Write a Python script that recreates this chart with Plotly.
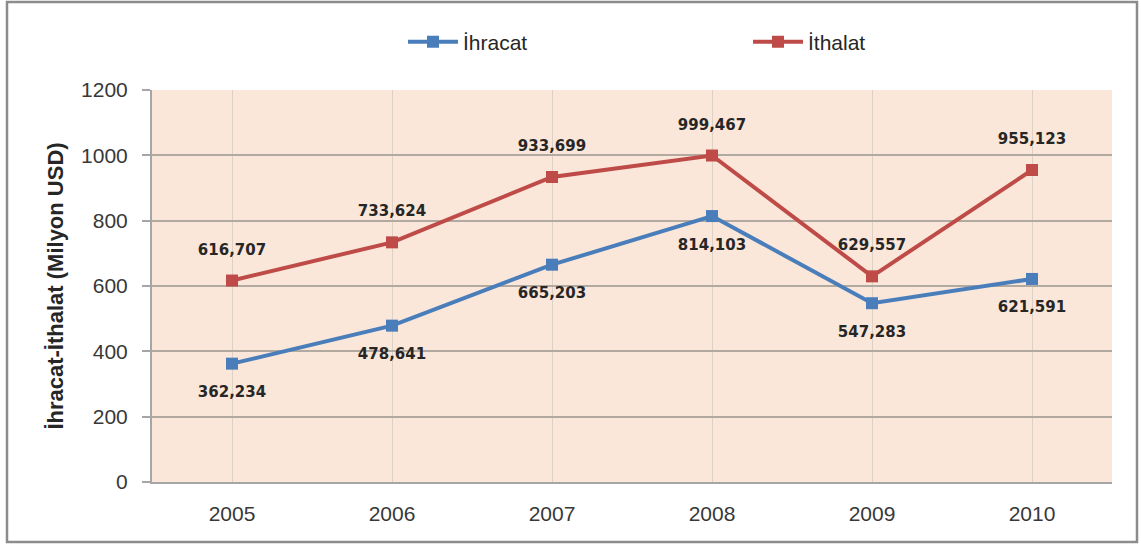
import plotly.graph_objects as go

years = ["2005", "2006", "2007", "2008", "2009", "2010"]
ihracat = [362.234, 478.641, 665.203, 814.103, 547.283, 621.591]
ithalat = [616.707, 733.624, 933.699, 999.467, 629.557, 955.123]

blue = "#4A7EBB"
red = "#BE4B48"
lblfont = dict(family="DejaVu Sans", size=15, color="#262626")

fig = go.Figure()
fig.add_trace(go.Scatter(
    x=years, y=ihracat, name="İhracat", mode="lines+markers",
    line=dict(color=blue, width=4),
    marker=dict(symbol="square", size=12, color=blue),
    cliponaxis=False,
))
fig.add_trace(go.Scatter(
    x=years, y=ithalat, name="İthalat", mode="lines+markers",
    line=dict(color=red, width=4),
    marker=dict(symbol="square", size=12, color=red),
    cliponaxis=False,
))
# data labels: transparent large markers push the text away from the points
for vals, pos in ((ihracat, "bottom center"), (ithalat, "top center")):
    fig.add_trace(go.Scatter(
        x=years, y=vals, mode="markers+text", showlegend=False, hoverinfo="skip",
        marker=dict(size=34, color="rgba(0,0,0,0)"),
        texttemplate="<b>%{y:.3f}</b>", textposition=pos, textfont=lblfont,
        cliponaxis=False,
    ))

fig.update_layout(
    width=1141, height=544,
    margin=dict(l=152, r=29, t=90, b=62, autoexpand=False),
    paper_bgcolor="white",
    plot_bgcolor="#FAE7D9",
    separators=",.",
    font=dict(family="Liberation Sans", size=15, color="#333333"),
    showlegend=True,
    legend=dict(orientation="h", x=(403 - 152) / 960, xanchor="left",
                y=1 + 48 / 392, yanchor="middle",
                font=dict(size=21, color="#262626"), itemwidth=50,
                entrywidthmode="pixels", entrywidth=280, bgcolor="rgba(0,0,0,0)"),
    xaxis=dict(
        type="category", showgrid=True, gridcolor="#DDD0C5", gridwidth=1,
        showline=True, linecolor="#A6A6A6", linewidth=2,
        ticks="", tickfont=dict(size=21, color="#383838"),
        ticklabelstandoff=12,
        range=[-0.5, 5.5],
    ),
    yaxis=dict(
        range=[0, 1200], dtick=200, showgrid=True, gridcolor="#B2A9A1", gridwidth=2,
        showline=True, linecolor="#A6A6A6", linewidth=2,
        ticks="outside", ticklen=8, tickcolor="#A6A6A6", tickwidth=2,
        tickfont=dict(size=21, color="#383838"),
        ticklabelstandoff=10,
        title=dict(text="<b>İhracat-İthalat (Milyon USD)</b>", font=dict(size=22, color="#262626"),
                   standoff=11),
        zeroline=False,
    ),
    shapes=[dict(type="rect", xref="paper", yref="paper",
                 x0=(7 - 152) / 960, x1=(1137 - 152) / 960,
                 y0=-(542 - 482) / 392, y1=1 + (90 - 2) / 392,
                 line=dict(color="#8C8C8C", width=2.5),
                 fillcolor="rgba(0,0,0,0)", layer="above")],
)

fig.write_html("out.html", config={"displayModeBar": False},
               post_script="document.body.style.margin='0px';document.body.style.overflow='hidden';")
